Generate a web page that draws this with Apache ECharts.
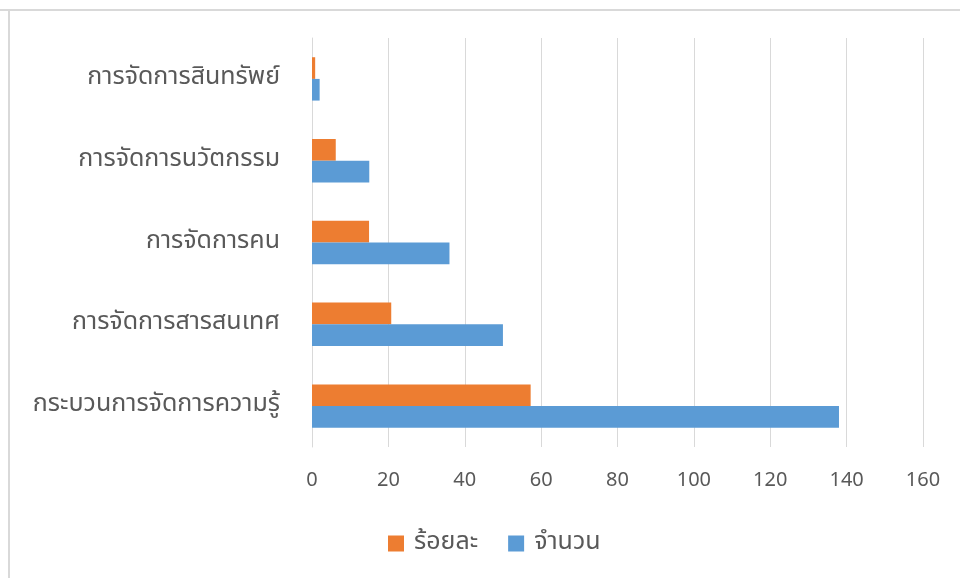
<!DOCTYPE html>
<html>
<head>
<meta charset="utf-8">
<script src="https://cdn.jsdelivr.net/npm/echarts@6/dist/echarts.min.js"></script>
<style>
html,body{margin:0;padding:0;background:#fff;}
#c{width:960px;height:578px;}
</style>
</head>
<body>
<div id="c"></div>
<script>
const categories = ['กระบวนการจัดการความรู้', 'การจัดการสารสนเทศ', 'การจัดการคน', 'การจัดการนวัตกรรม', 'การจัดการสินทรัพย์'];
const percentValues = [57.26, 20.75, 14.94, 6.22, 0.83];
const countValues = [138, 50, 36, 15, 2];
const seriesNames = ['ร้อยละ', 'จำนวน'];
const xMin = 0, xMax = 160, xStep = 20;

const font = "'Noto Sans Thai', Tahoma, 'DejaVu Sans', 'Noto Sans', sans-serif";
const chart = echarts.init(document.getElementById('c'), null, {renderer: 'canvas'});
chart.setOption({
  animation: false,
  backgroundColor: '#ffffff',
  textStyle: {fontFamily: font},
  grid: {left: 312, right: 37, top: 38, bottom: 131, containLabel: false},
  legend: {
    data: seriesNames,
    bottom: 17,
    left: 383,
    itemWidth: 16, itemHeight: 16, itemGap: 30,
    icon: 'rect',
    textStyle: {fontSize: 25, color: '#595959', fontFamily: font, padding: [0, 0, 0, 5]}
  },
  xAxis: {
    type: 'value', min: xMin, max: xMax, interval: xStep,
    axisLine: {show: false}, axisTick: {show: false},
    splitLine: {lineStyle: {color: '#d9d9d9', width: 1}},
    axisLabel: {fontSize: 20, color: '#595959', margin: 25, fontFamily: font}
  },
  yAxis: {
    type: 'category', data: categories,
    axisLine: {show: true, lineStyle: {color: '#d9d9d9', width: 1}},
    axisTick: {show: false},
    axisLabel: {fontSize: 25, color: '#595959', margin: 32, fontFamily: font, padding: [4, 0, 0, 0]}
  },
  series: [
    {name: seriesNames[0], type: 'bar', data: percentValues, barGap: '0%', barCategoryGap: '47%',
     itemStyle: {color: '#ED7D31'}},
    {name: seriesNames[1], type: 'bar', data: countValues, barGap: '0%', barCategoryGap: '47%',
     itemStyle: {color: '#5B9BD5'}}
  ],
  graphic: [
    {type: 'rect', shape: {x: 0, y: 9, width: 960, height: 2}, style: {fill: '#d9d9d9'}},
    {type: 'rect', shape: {x: 8, y: 9, width: 2, height: 569}, style: {fill: '#d9d9d9'}}
  ]
});
</script>
</body>
</html>
